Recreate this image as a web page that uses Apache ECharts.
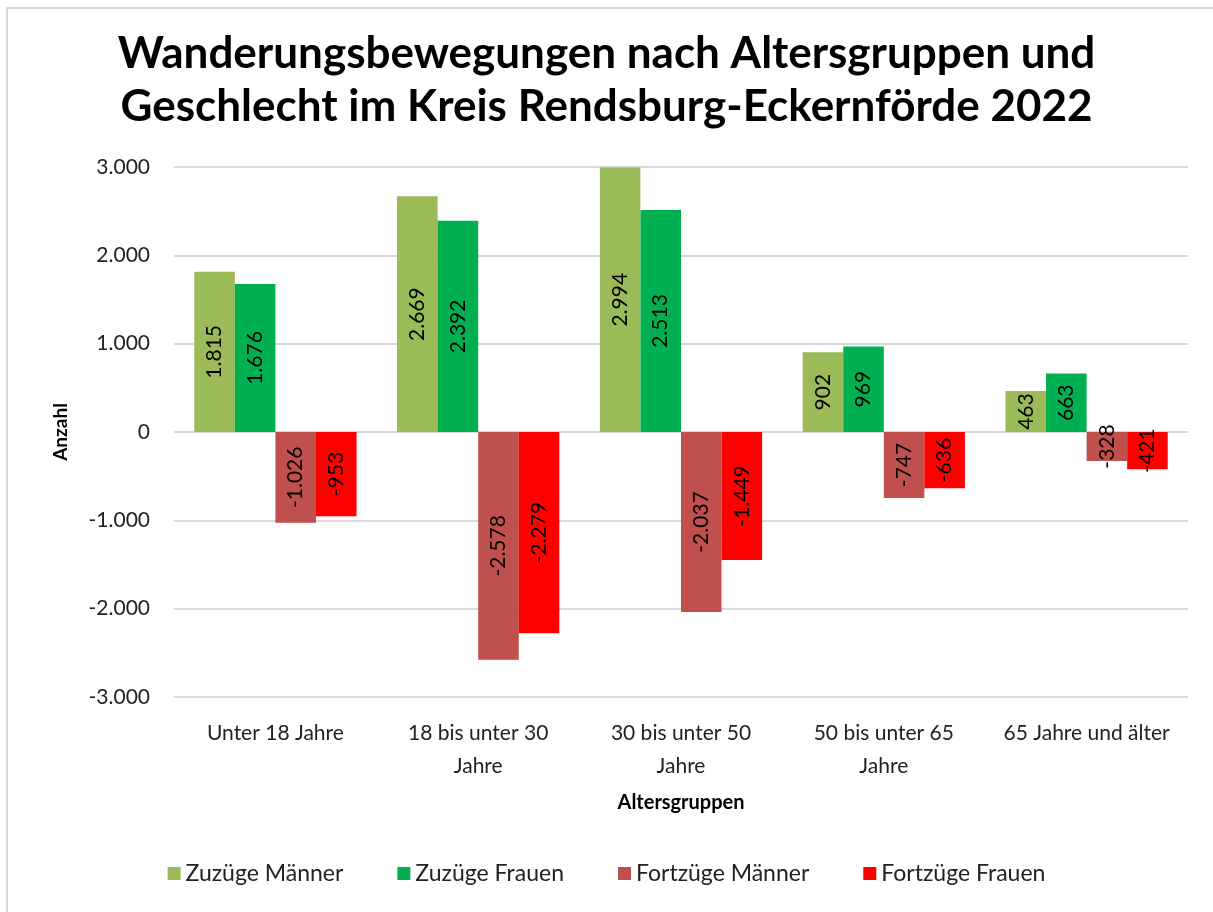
<!DOCTYPE html>
<html>
<head>
<meta charset="utf-8">
<script src="https://cdn.jsdelivr.net/npm/echarts@6/dist/echarts.min.js"></script>
<style>
  html, body { margin: 0; padding: 0; background: #fff; }
  #chart { width: 1213px; height: 912px; }
</style>
</head>
<body>
<div id="chart"></div>
<script>
const categories = ['Unter 18 Jahre', '18 bis unter 30\nJahre', '30 bis unter 50\nJahre', '50 bis unter 65\nJahre', '65 Jahre und älter']
const zuzuegeMaenner = [1815, 2669, 2994, 902, 463]
const zuzuegeFrauen = [1676, 2392, 2513, 969, 663]
const fortzuegeMaenner = [-1026, -2578, -2037, -747, -328]
const fortzuegeFrauen = [-953, -2279, -1449, -636, -421]
const seriesNames = ['Zuzüge Männer', 'Zuzüge Frauen', 'Fortzüge Männer', 'Fortzüge Frauen']
const seriesColors = ['#9BBB59', '#00B050', '#C0504D', '#FF0000']

const fontFamily = 'Lato, "Open Sans", sans-serif'

function fmt(v) {
  const s = Math.abs(v).toString().replace(/\B(?=(\d{3})+(?!\d))/g, '.')
  return (v < 0 ? '-' : '') + s
}

const chart = echarts.init(document.getElementById('chart'))

const seriesData = [zuzuegeMaenner, zuzuegeFrauen, fortzuegeMaenner, fortzuegeFrauen]

const option = {
  backgroundColor: '#fff',
  textStyle: { fontFamily },
  graphic: [{
    type: 'rect',
    shape: { x: 7, y: 8, width: 1230, height: 920 },
    style: { fill: 'none', stroke: '#d9d9d9', lineWidth: 2 },
    silent: true
  }],
  title: {
    text: 'Wanderungsbewegungen nach Altersgruppen und\nGeschlecht im Kreis Rendsburg-Eckernförde 2022',
    left: 'center',
    top: 22,
    textStyle: {
      fontFamily,
      fontSize: 44,
      fontWeight: 'bold',
      color: '#000',
      lineHeight: 53
    }
  },
  legend: {
    data: seriesNames,
    bottom: 22,
    left: 'center',
    itemWidth: 13,
    itemHeight: 13,
    itemGap: 54,
    icon: 'rect',
    textStyle: { fontFamily, fontSize: 23, color: '#222' }
  },
  grid: {
    left: 174,
    right: 25,
    top: 167,
    bottom: 215,
    outerBoundsMode: 'none'
  },
  xAxis: {
    type: 'category',
    data: categories,
    name: 'Altersgruppen',
    nameLocation: 'middle',
    nameGap: 96,
    nameTextStyle: { fontFamily, fontSize: 20, fontWeight: 'bold', color: '#000' },
    axisLine: { show: false },
    axisTick: { show: false },
    axisLabel: {
      fontFamily,
      fontSize: 21,
      color: '#222',
      margin: 20,
      lineHeight: 33,
      interval: 0
    }
  },
  yAxis: {
    type: 'value',
    min: -3000,
    max: 3000,
    interval: 1000,
    name: 'Anzahl',
    nameLocation: 'middle',
    nameGap: 104,
    nameRotate: 90,
    nameTextStyle: { fontFamily, fontSize: 19, fontWeight: 'bold', color: '#000' },
    axisLine: { show: false },
    axisTick: { show: false },
    axisLabel: {
      fontFamily,
      fontSize: 21,
      color: '#222',
      margin: 24,
      formatter: v => fmt(v)
    },
    splitLine: { lineStyle: { color: '#d9d9d9', width: 2 } }
  },
  series: seriesNames.map((name, i) => ({
    name,
    type: 'bar',
    data: seriesData[i],
    barGap: '0%',
    barCategoryGap: '20%',
    itemStyle: { color: seriesColors[i] },
    label: {
      show: true,
      position: 'inside',
      rotate: 90,
      fontFamily,
      fontSize: 21,
      color: '#000',
      formatter: p => fmt(p.value)
    }
  }))
}

chart.setOption(option)
</script>
</body>
</html>
